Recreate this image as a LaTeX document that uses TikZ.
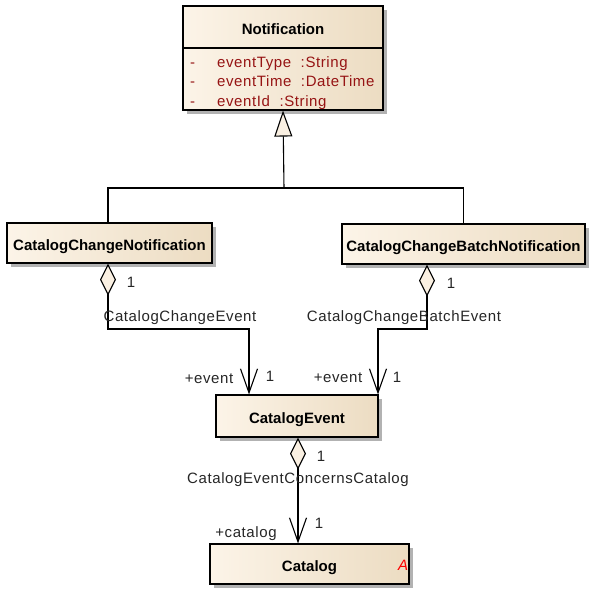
\documentclass[tikz,border=0pt]{standalone}
\usepackage{fontspec}
\setmainfont{Liberation Sans}
\newfontfamily\lblfont[LetterSpace=4]{Liberation Sans}
\usetikzlibrary{arrows.meta,shadows,calc}
\definecolor{boxL}{RGB}{252,244,232}
\definecolor{boxR}{RGB}{236,220,194}
\definecolor{attr}{RGB}{150,20,20}
\definecolor{tipfill}{RGB}{250,240,226}
\begin{document}
\begin{tikzpicture}[x=1pt,y=-1pt,
  cls/.style={draw=black,line width=1.1pt,rectangle,left color=boxL,right color=boxR,
    drop shadow={shadow xshift=4pt,shadow yshift=-4pt,fill=black!30,opacity=1},
    font=\fontsize{15}{17}\selectfont\bfseries,inner sep=0pt,text height=15.5pt,text depth=0pt},
  lbl/.style={font=\lblfont\fontsize{15}{17}\selectfont,text=black!85,inner sep=0pt},
  atr/.style={font=\lblfont\fontsize{15}{17}\selectfont,text=attr,inner sep=0pt,anchor=base west},
  conn/.style={line width=1.1pt,draw=black},
  agg/.style={conn,{Diamond[length=32pt,width=16pt,fill=tipfill,line width=1.1pt]}-{Straight Barb[length=24pt,width=17pt,line width=1.1pt]}},
  gen/.style={conn,-{Triangle[length=26pt,width=18pt,fill=tipfill,line width=1.1pt]}}
]
\useasboundingbox (0,0) rectangle (589,590);
% classes
\node[cls,minimum width=200pt,minimum height=104pt] (notif) at (283,58) {};
\node[font=\fontsize{15}{17}\selectfont\bfseries,inner sep=0pt] (notifname) at (283,29) {Notification};
\draw[line width=1.1pt] (notif.west |- 0,48) coordinate (dl) -- (notif.east |- 0,48) coordinate (dr);
\node[atr] (d1) at (190,67) {-};
\node[atr] (d2) at (190,86) {-};
\node[atr] (d3) at (190,106) {-};
\node[atr] (a1) at (217,67) {eventType\ \ :String};
\node[atr] (a2) at (217,86) {eventTime\ \ :DateTime};
\node[atr] (a3) at (217,106) {eventId\ \ :String};

\node[cls,minimum width=205pt,minimum height=40pt] (ccn) at (109.5,243) {CatalogChangeNotification};
\node[cls,minimum width=243pt,minimum height=40pt] (ccbn) at (463.5,244) {CatalogChangeBatchNotification};
\node[cls,minimum width=162pt,minimum height=42pt] (ce) at (297,416) {CatalogEvent};
\node[cls,minimum width=199pt,minimum height=40pt] (cat) at (309.5,564) {Catalog};
\node[font=\fontsize{15}{17}\selectfont\itshape,text=red,inner sep=0pt] (abs) at (403,565) {A};

% generalization
\coordinate (j) at (284,188);
\draw[conn] ([xshift=-1.5pt]ccn.north) |- (j) -| (ccbn.north);
\draw[gen] (j) -- (notif.south);

% aggregations
\coordinate (ce1) at ([xshift=-48pt]ce.north);
\coordinate (ce2) at ([xshift=81pt]ce.north);
\draw[agg] ([xshift=-1.5pt]ccn.south) |- (ce1 |- 0,329) -- (ce1);
\draw[agg] ([xshift=-36.5pt]ccbn.south) |- (ce2 |- 0,329) -- (ce2);
\draw[agg] ([xshift=1pt]ce.south) -- ([xshift=1pt]ce.south |- cat.north);

% labels
\node[lbl] (m1) at (131,282) {1};
\node[lbl] (n1) at (180,318) {CatalogChangeEvent};
\node[lbl] (r1) at (209,379) {+event};
\node[lbl] (m2) at (270,376) {1};

\node[lbl] (m3) at (451,283) {1};
\node[lbl] (n2) at (404,318) {CatalogChangeBatchEvent};
\node[lbl] (r2) at (338,378) {+event};
\node[lbl] (m4) at (397,377) {1};

\node[lbl] (m5) at (321,456) {1};
\node[lbl] (n3) at (298,480) {CatalogEventConcernsCatalog};
\node[lbl] (m6) at (319,523) {1};
\node[lbl] (r3) at (246,534) {+catalog};
\end{tikzpicture}
\end{document}
